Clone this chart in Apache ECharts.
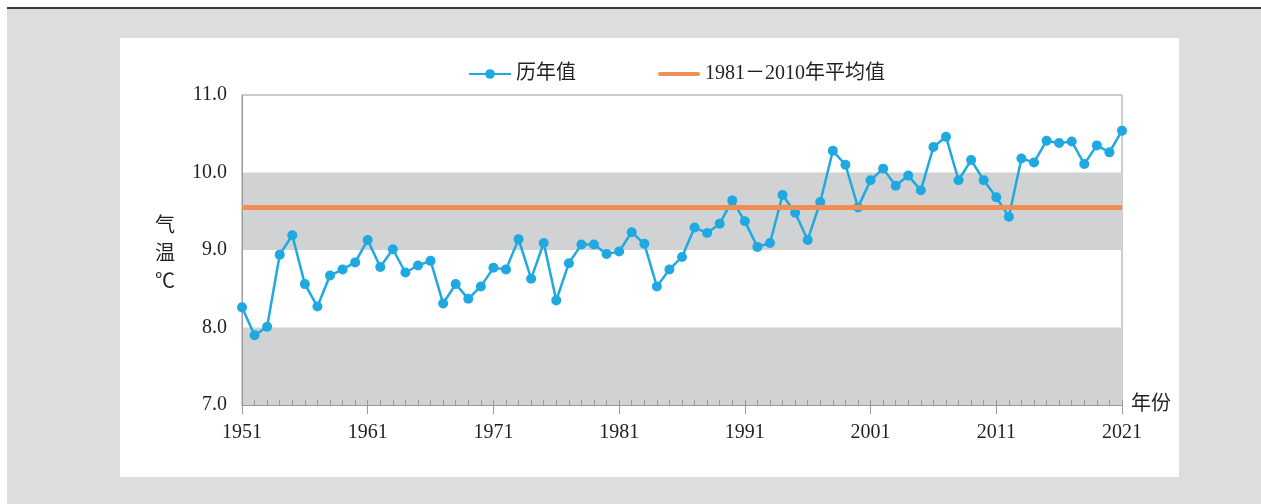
<!DOCTYPE html>
<html>
<head>
<meta charset="utf-8">
<script src="https://cdn.jsdelivr.net/npm/echarts@6/dist/echarts.min.js"></script>
<style>
  html, body { margin: 0; padding: 0; background: #ffffff; }
  #wrap { position: relative; width: 1261px; height: 504px; overflow: hidden; }
  #outer { position: absolute; left: 7px; top: 7px; right: 0; bottom: 0; background: #dcdddf;
           border-top: 2px solid #3a3a3a; }
  #panel { position: absolute; left: 120px; top: 38px; width: 1059px; height: 439px; background: #ffffff; }
  #chart { position: absolute; left: 0; top: 0; width: 1261px; height: 504px; }
</style>
</head>
<body>
<div id="wrap">
  <div id="outer"></div>
  <div id="panel"></div>
  <div id="chart"></div>
</div>
<script>
const years = ['1951','1952','1953','1954','1955','1956','1957','1958','1959','1960',
  '1961','1962','1963','1964','1965','1966','1967','1968','1969','1970',
  '1971','1972','1973','1974','1975','1976','1977','1978','1979','1980',
  '1981','1982','1983','1984','1985','1986','1987','1988','1989','1990',
  '1991','1992','1993','1994','1995','1996','1997','1998','1999','2000',
  '2001','2002','2003','2004','2005','2006','2007','2008','2009','2010',
  '2011','2012','2013','2014','2015','2016','2017','2018','2019','2020','2021'];

const annualTemps = [8.26, 7.90, 8.01, 8.94, 9.19, 8.56, 8.27, 8.67, 8.75, 8.84,
  9.13, 8.78, 9.01, 8.71, 8.80, 8.86, 8.31, 8.56, 8.37, 8.53,
  8.77, 8.75, 9.14, 8.63, 9.09, 8.35, 8.83, 9.07, 9.07, 8.95,
  8.98, 9.23, 9.08, 8.53, 8.75, 8.91, 9.29, 9.22, 9.34, 9.64,
  9.37, 9.04, 9.09, 9.71, 9.48, 9.13, 9.62, 10.28, 10.10, 9.55,
  9.90, 10.05, 9.83, 9.96, 9.77, 10.33, 10.46, 9.90, 10.16, 9.90,
  9.68, 9.43, 10.18, 10.13, 10.41, 10.38, 10.40, 10.11, 10.35, 10.26, 10.54];

const normalValue = 9.55;
const yTicks = [7, 11, 1]; // min, max, interval
const seriesNames = ['历年值', '1981－2010年平均值'];
const axisNames = ['年份', '气\n温\n℃'];

const FONT = '"Liberation Serif", "Noto Sans CJK SC", serif';
const TXT = '#231f20';
const AX = '#9a9a9a';
const ORANGE = '#ef8f56';
const BLUE = '#1fa9e0';

const chart = echarts.init(document.getElementById('chart'), null, { renderer: 'canvas' });
chart.setOption({
  backgroundColor: 'transparent',
  animation: false,
  textStyle: { fontFamily: FONT, color: TXT },
  legend: {
    left: 463, top: 59,
    itemWidth: 42, itemHeight: 12, itemGap: 82,
    textStyle: { fontSize: 20, fontFamily: FONT, color: TXT },
    data: [
      { name: seriesNames[0] },
      { name: seriesNames[1],
        icon: 'path://M2,0 L40,0 A2,2 0 0 1 40,4 L2,4 A2,2 0 0 1 2,0 Z',
        itemStyle: { color: ORANGE } }
    ]
  },
  grid: {
    left: 242, right: 139, top: 95, bottom: 99,
    show: true, borderColor: AX, borderWidth: 1, backgroundColor: 'transparent'
  },
  graphic: [{
    type: 'text', left: 155, top: 213,
    style: { text: axisNames[1], font: '20px ' + FONT, fill: TXT, lineHeight: 28, align: 'center' }
  }],
  xAxis: [{
    type: 'category', data: years, boundaryGap: false,
    name: axisNames[0], nameLocation: 'end', nameGap: 9,
    nameTextStyle: { fontSize: 20, fontFamily: FONT, color: TXT },
    axisLine: { show: true, lineStyle: { color: AX, width: 1 } },
    axisTick: { show: true, interval: 9, length: 9, lineStyle: { color: AX } },
    axisLabel: { interval: 9, margin: 18, fontSize: 20, fontFamily: FONT, color: TXT },
    splitLine: { show: false }
  }, {
    type: 'category', data: years, boundaryGap: false, position: 'bottom',
    axisLine: { show: false },
    axisTick: { show: true, interval: 0, inside: true, length: 5, lineStyle: { color: AX } },
    axisLabel: { show: false },
    splitLine: { show: false }
  }],
  yAxis: {
    type: 'value', min: yTicks[0], max: yTicks[1], interval: yTicks[2],
    axisLine: { show: true, lineStyle: { color: AX, width: 1 } },
    axisTick: { show: false },
    axisLabel: { margin: 15, fontSize: 20, fontFamily: FONT, color: TXT,
                 formatter: v => v.toFixed(1) },
    splitLine: { show: false },
    splitArea: { show: true, areaStyle: { color: ['#d1d2d4', 'rgba(255,255,255,0)'] } }
  },
  series: [{
    name: seriesNames[1], type: 'line', data: [], symbol: 'none',
    itemStyle: { color: ORANGE },
    lineStyle: { color: ORANGE, width: 5 },
    markLine: {
      silent: true, symbol: ['none', 'none'], label: { show: false },
      lineStyle: { color: ORANGE, width: 5, type: 'solid' },
      data: [{ yAxis: normalValue }]
    },
    z: 2
  }, {
    name: seriesNames[0], type: 'line', data: annualTemps,
    symbol: 'circle', symbolSize: 10, showAllSymbol: true,
    itemStyle: { color: BLUE },
    lineStyle: { color: BLUE, width: 2.5 },
    z: 3
  }]
});
</script>
</body>
</html>
